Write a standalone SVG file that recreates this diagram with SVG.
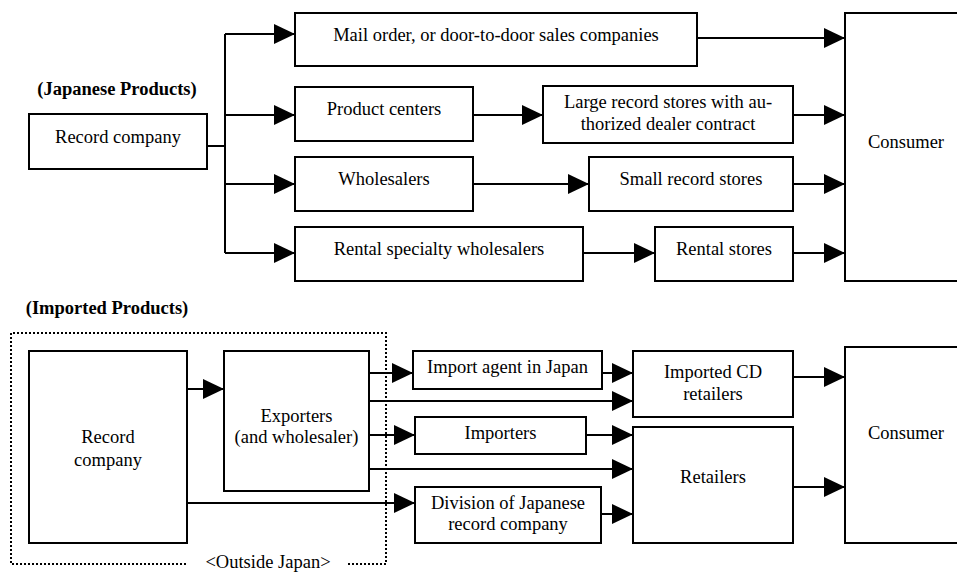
<svg xmlns="http://www.w3.org/2000/svg" width="957" height="572" viewBox="0 0 957 572">
<style>
.box{fill:#fff;stroke:#000;stroke-width:2}
.t{font-family:"Liberation Serif","Times New Roman",serif;font-size:18.5px;fill:#000;text-anchor:middle}
.b{font-weight:bold}
.c{fill:none;stroke:#000;stroke-width:2}
.dot{fill:none;stroke:#000;stroke-width:2;stroke-dasharray:2 2}
</style>
<defs>
<marker id="ah" markerUnits="userSpaceOnUse" markerWidth="21" markerHeight="20" refX="21" refY="10" orient="auto">
<path d="M0,0 L21,10 L0,20 Z" fill="#000"/>
</marker>
</defs>
<rect width="957" height="572" fill="#fff"/>

<text class="t b" x="117" y="95">(Japanese Products)</text>
<text class="t b" x="107" y="314">(Imported Products)</text>

<g id="outside-japan">
<path class="dot" d="M186,564 L11,564 L11,333 L386,333 L386,564 L346,564"/>
<text class="t" x="268" y="568">&lt;Outside Japan&gt;</text>
</g>

<g id="connectors">
<path class="c" d="M207,146 H225 M225,34 V253"/>
<line class="c" x1="225" y1="34" x2="295" y2="34" marker-end="url(#ah)"/>
<line class="c" x1="225" y1="115" x2="295" y2="115" marker-end="url(#ah)"/>
<line class="c" x1="225" y1="184" x2="295" y2="184" marker-end="url(#ah)"/>
<line class="c" x1="225" y1="253" x2="295" y2="253" marker-end="url(#ah)"/>
<line class="c" x1="473" y1="115" x2="543" y2="115" marker-end="url(#ah)"/>
<line class="c" x1="473" y1="184" x2="589" y2="184" marker-end="url(#ah)"/>
<line class="c" x1="583" y1="253" x2="655" y2="253" marker-end="url(#ah)"/>
<line class="c" x1="697" y1="38" x2="845" y2="38" marker-end="url(#ah)"/>
<line class="c" x1="793" y1="115" x2="845" y2="115" marker-end="url(#ah)"/>
<line class="c" x1="793" y1="184" x2="845" y2="184" marker-end="url(#ah)"/>
<line class="c" x1="793" y1="253" x2="845" y2="253" marker-end="url(#ah)"/>

<line class="c" x1="187" y1="389" x2="224" y2="389" marker-end="url(#ah)"/>
<line class="c" x1="369" y1="373" x2="413" y2="373" marker-end="url(#ah)"/>
<line class="c" x1="369" y1="401" x2="633" y2="401" marker-end="url(#ah)"/>
<line class="c" x1="369" y1="435" x2="415" y2="435" marker-end="url(#ah)"/>
<line class="c" x1="369" y1="469" x2="633" y2="469" marker-end="url(#ah)"/>
<line class="c" x1="187" y1="503" x2="415" y2="503" marker-end="url(#ah)"/>
<line class="c" x1="602" y1="373" x2="633" y2="373" marker-end="url(#ah)"/>
<line class="c" x1="586" y1="435" x2="633" y2="435" marker-end="url(#ah)"/>
<line class="c" x1="601" y1="514" x2="633" y2="514" marker-end="url(#ah)"/>
<line class="c" x1="793" y1="377" x2="845" y2="377" marker-end="url(#ah)"/>
<line class="c" x1="793" y1="487" x2="845" y2="487" marker-end="url(#ah)"/>
</g>

<g id="jp-record-company"><rect class="box" x="29" y="114" width="178" height="55"/><text class="t" x="118" y="143">Record company</text></g>
<g id="mail-order"><rect class="box" x="295" y="13" width="402" height="53"/><text class="t" x="496" y="41">Mail order, or door-to-door sales companies</text></g>
<g id="product-centers"><rect class="box" x="295" y="87" width="178" height="54"/><text class="t" x="384" y="115">Product centers</text></g>
<g id="large-record-stores"><rect class="box" x="543" y="86" width="250" height="57"/><text class="t" x="668" y="108">Large record stores with au-</text><text class="t" x="668" y="130">thorized dealer contract</text></g>
<g id="wholesalers"><rect class="box" x="295" y="157" width="178" height="54"/><text class="t" x="384" y="185">Wholesalers</text></g>
<g id="small-record-stores"><rect class="box" x="589" y="157" width="204" height="54"/><text class="t" x="691" y="185">Small record stores</text></g>
<g id="rental-wholesalers"><rect class="box" x="295" y="227" width="288" height="54"/><text class="t" x="439" y="255">Rental specialty wholesalers</text></g>
<g id="rental-stores"><rect class="box" x="655" y="227" width="138" height="54"/><text class="t" x="724" y="255">Rental stores</text></g>
<g id="jp-consumer"><rect class="box" x="845" y="13" width="125" height="268"/><text class="t" x="906" y="148">Consumer</text></g>

<g id="im-record-company"><rect class="box" x="29" y="351" width="158" height="192"/><text class="t" x="108" y="443">Record</text><text class="t" x="108" y="466">company</text></g>
<g id="exporters"><rect class="box" x="224" y="351" width="145" height="140"/><text class="t" x="296.5" y="422">Exporters</text><text class="t" x="296.5" y="443">(and wholesaler)</text></g>
<g id="import-agent"><rect class="box" x="413" y="351" width="189" height="38"/><text class="t" x="507.5" y="373">Import agent in Japan</text></g>
<g id="importers"><rect class="box" x="415" y="417" width="171" height="37"/><text class="t" x="500.5" y="439">Importers</text></g>
<g id="division"><rect class="box" x="415" y="487" width="186" height="56"/><text class="t" x="508" y="509">Division of Japanese</text><text class="t" x="508" y="530">record company</text></g>
<g id="imported-cd-retailers"><rect class="box" x="633" y="351" width="160" height="66"/><text class="t" x="713" y="378">Imported CD</text><text class="t" x="713" y="400">retailers</text></g>
<g id="retailers"><rect class="box" x="633" y="427" width="160" height="116"/><text class="t" x="713" y="483">Retailers</text></g>
<g id="im-consumer"><rect class="box" x="845" y="347" width="125" height="196"/><text class="t" x="906" y="439">Consumer</text></g>
</svg>
